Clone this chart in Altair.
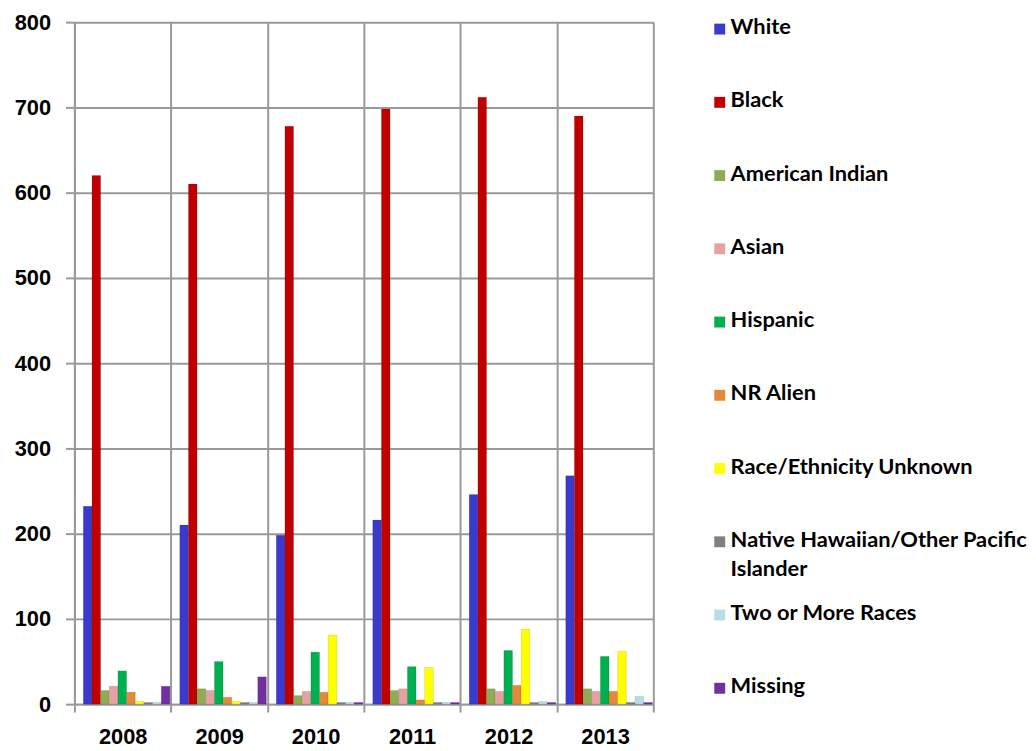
import altair as alt
import pandas as pd

years = ["2008", "2009", "2010", "2011", "2012", "2013"]
groups = ["White", "Black", "American Indian", "Asian", "Hispanic", "NR Alien",
          "Race/Ethnicity Unknown", "Native Hawaiian/Other Pacific Islander",
          "Two or More Races", "Missing"]
legend_labels = ["White", "Black", "American Indian", "Asian", "Hispanic", "NR Alien",
                 "Race/Ethnicity Unknown", "Native Hawaiian/Other Pacific|Islander",
                 "Two or More Races", "Missing"]
colors = ["#3a3acc", "#c00000", "#8fac52", "#e6a2a2", "#00b050", "#e4893a",
          "#ffff00", "#808080", "#b7dde8", "#7030a0"]

white = [232, 210, 198, 216, 246, 268]
black = [620, 610, 678, 698, 712, 690]
american_indian = [16, 18, 10, 16, 18, 18]
asian = [21, 16, 15, 18, 15, 15]
hispanic = [39, 50, 61, 44, 63, 56]
nr_alien = [14, 8, 14, 5, 22, 15]
unknown = [3, 3, 81, 43, 88, 62]
native_hawaiian = [2, 2, 2, 2, 2, 2]
two_or_more = [2, 2, 2, 2, 3, 9]
missing = [21, 32, 2, 2, 2, 2]

series = [white, black, american_indian, asian, hispanic, nr_alien,
          unknown, native_hawaiian, two_or_more, missing]

rows = []
for g, vals in zip(groups, series):
    for y, v in zip(years, vals):
        rows.append({"Year": y, "Group": g, "Value": v})
df = pd.DataFrame(rows)

color_scale = alt.Scale(domain=groups, range=colors)
grid_col = "#999999"
axis_font = "Liberation Sans"

bars = alt.Chart(df).mark_bar(stroke="#00000033", strokeWidth=0.5).encode(
    x=alt.X("Year:N", sort=years, title=None,
            scale=alt.Scale(paddingInner=0, paddingOuter=0),
            axis=alt.Axis(labelAngle=0, tickBand="extent", grid=True,
                          gridColor=grid_col, gridWidth=2,
                          domainColor=grid_col, domainWidth=2,
                          tickColor=grid_col, tickWidth=2, tickSize=8,
                          labelFont=axis_font, labelFontSize=22, labelFontWeight="bold",
                          labelColor="black", labelPadding=15)),
    xOffset=alt.XOffset("Group:N", sort=groups,
                        scale=alt.Scale(paddingInner=0, paddingOuter=0.57, align=0.9)),
    y=alt.Y("Value:Q", title=None,
            scale=alt.Scale(domain=[0, 800]),
            axis=alt.Axis(values=list(range(0, 801, 100)), grid=True,
                          gridColor=grid_col, gridWidth=2,
                          domainColor=grid_col, domainWidth=2,
                          tickColor=grid_col, tickWidth=2, tickSize=9,
                          labelFont=axis_font, labelFontSize=22, labelFontWeight="bold",
                          labelColor="black", labelPadding=15)),
    color=alt.Color("Group:N", scale=color_scale, legend=None),
).properties(width=584, height=688,
             view=alt.ViewBackground(stroke=grid_col, strokeWidth=2))

leg_df = pd.DataFrame({"Group": groups, "Label": legend_labels})
leg_y = alt.Y("Group:N", sort=groups, axis=None,
              scale=alt.Scale(type="point", range=[7, 672], padding=0))
leg_sym = alt.Chart(leg_df).mark_square(size=121, opacity=1).encode(
    x=alt.value(29), y=leg_y,
    color=alt.Color("Group:N", scale=color_scale, legend=None))
leg_txt = alt.Chart(leg_df).mark_text(
    align="left", baseline="top", dy=-12, lineBreak="|", lineHeight=30,
    font="Lato", fontSize=22, fontWeight="bold", color="black").encode(
    x=alt.value(40), y=leg_y, text="Label:N")
legend = alt.layer(leg_sym, leg_txt).properties(
    width=290, height=688, view=alt.ViewBackground(strokeOpacity=0))

chart = alt.hconcat(bars, legend, spacing=37).properties(
    padding={"left": 6, "top": 0, "right": 0, "bottom": 0}
).configure_view(strokeOpacity=0).configure_concat(spacing=37)

chart.save("out.html", embed_options={"renderer": "svg", "actions": False})
